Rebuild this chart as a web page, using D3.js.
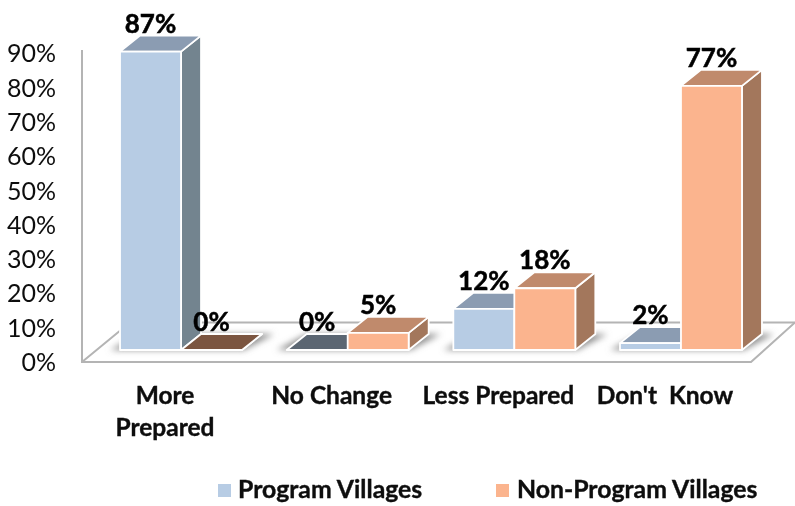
<!DOCTYPE html>
<html><head><meta charset="utf-8">
<style>html,body{margin:0;padding:0;background:#fff}svg{display:block}text{font-family:Lato,"Open Sans",sans-serif;white-space:pre}</style>
<script src="https://cdn.jsdelivr.net/npm/d3@7/dist/d3.min.js"></script></head>
<body><svg id="c" width="795" height="506"></svg>
<script>
const categories = ["More Prepared", "No Change", "Less Prepared", "Don't  Know"];
const categoryLines = [["More", "Prepared"], ["No Change"], ["Less Prepared"], ["Don't  Know"]];
const seriesNames = ["Program Villages", "Non-Program Villages"];
const programValues = [87, 0, 12, 2];
const nonProgramValues = [0, 5, 18, 77];
const tickValues = [0, 10, 20, 30, 40, 50, 60, 70, 80, 90];

const svg = d3.select("#c");
const baseY = 350, dx = 20, dy = 16;
const x = d3.scaleBand().domain(categories).range([97.7, 764.3]).paddingInner(0.268).paddingOuter(0.134);
const xs = d3.scaleBand().domain(seriesNames).range([0, x.bandwidth()]);
const y = d3.scaleLinear().domain([0, 100]).range([baseY, baseY - 343]);
const pal = [
  {front: "#b7cce4", top: "#8b9cb2", side: "#73848f", zero: "#5b6672"},
  {front: "#fbb48e", top: "#c08a6c", side: "#a3775c", zero: "#7b5540"}
];
const defs = svg.append("defs");
defs.append("filter").attr("id", "sh").attr("x", "-20%").attr("y", "-100%").attr("width", "140%").attr("height", "300%")
  .append("feGaussianBlur").attr("stdDeviation", 3);
defs.append("filter").attr("id", "soft").append("feGaussianBlur").attr("stdDeviation", 0.35);

// floor and wall
const floor = svg.append("g").attr("fill", "none").attr("stroke", "#b4b4b4").attr("stroke-width", 2);
const frontY = 362, backY = 322.5;
floor.append("path").attr("d", d3.line()([[82, 50], [82, frontY], [751, frontY], [795, backY]]));
floor.append("path").attr("d", d3.line()([[82, frontY], [130, backY], [795, backY]]));

// shadows on floor
const shadows = svg.append("g").attr("filter", "url(#sh)");
categories.forEach(c => {
  const l = x(c), r = l + x.bandwidth();
  shadows.append("path").attr("fill", "#8f8f8f")
    .attr("d", d3.line()([[l - 10, baseY], [r + 2, baseY], [r + dx + 12, baseY - dy], [l + dx, baseY - dy]]));
});

// bars
const series = [programValues, nonProgramValues];
const bars = svg.append("g");
function drawBar(c, si, v) {
  const l = x(c) + xs(seriesNames[si]), w = xs.bandwidth(), r = l + w;
  const t = y(v), p = pal[si];
  const g = bars.append("g").attr("stroke", "#fff").attr("stroke-width", 1.8).attr("stroke-linejoin", "round");
  g.append("path").attr("fill", p.side).attr("d", d3.line()([[r, t], [r + dx, t - dy], [r + dx, baseY - dy], [r, baseY]]) + "Z");
  g.append("path").attr("fill", v === 0 ? p.zero : p.top).attr("d", d3.line()([[l, t], [l + dx, t - dy], [r + dx, t - dy], [r, t]]) + "Z");
  if (v > 0) g.append("rect").attr("x", l).attr("y", t).attr("width", w).attr("height", baseY - t).attr("fill", p.front);
}
categories.forEach((c, i) => { drawBar(c, 0, series[0][i]); drawBar(c, 1, series[1][i]); });

// y axis labels
const tickG = svg.append("g").attr("filter", "url(#soft)");
tickG.selectAll("text").data(tickValues).join("text")
  .attr("x", 56).attr("y", d => y(d) + 21).attr("text-anchor", "end")
  .attr("font-size", 25).attr("fill", "#111").text(d => d + "%");

// value labels
const labels = svg.append("g").attr("filter", "url(#soft)");
categories.forEach((c, i) => series.forEach((s, si) => {
  labels.append("text").attr("x", x(c) + xs(seriesNames[si]) + xs.bandwidth() / 2).attr("y", y(s[i]) - 19)
    .attr("text-anchor", "middle").attr("font-size", 26).attr("font-weight", 700)
    .attr("fill", "#000").attr("stroke", "#000").attr("stroke-width", 0.5).text(s[i] + "%");
}));

// category labels
const cats = svg.append("g").attr("filter", "url(#soft)");
categories.forEach((c, i) => categoryLines[i].forEach((t, k) => {
  cats.append("text").attr("x", x(c) + x.bandwidth() / 2 - 16).attr("y", 404 + k * 32)
    .attr("text-anchor", "middle").attr("font-size", 24.5).attr("font-weight", 700)
    .attr("fill", "#111").attr("stroke", "#111").attr("stroke-width", 0.4).text(t);
}));

// legend
const legendSwatchX = [218, 496], legendTextX = [238, 517];
const legend = svg.append("g");
seriesNames.forEach((n, i) => {
  legend.append("rect").attr("x", legendSwatchX[i]).attr("y", 484).attr("width", 13).attr("height", 13).attr("fill", pal[i].front);
  legend.append("text").attr("x", legendTextX[i]).attr("y", 498).attr("font-size", 24.8).attr("font-weight", 700)
    .attr("fill", "#111").attr("stroke", "#111").attr("stroke-width", 0.4).attr("filter", "url(#soft)").text(n);
});
</script></body></html>
